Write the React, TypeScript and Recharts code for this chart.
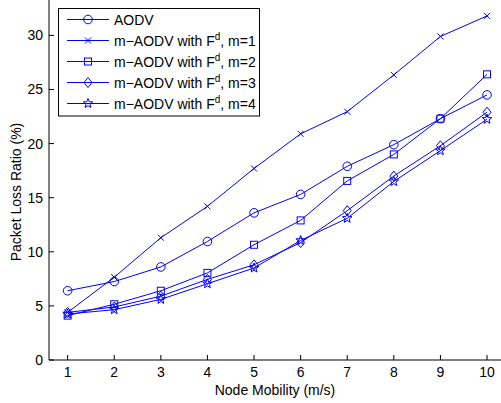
import React from 'react';
import { LineChart, Line, XAxis, YAxis } from 'recharts';

const mobility = [1, 2, 3, 4, 5, 6, 7, 8, 9, 10];
const aodv = [6.4, 7.25, 8.6, 10.95, 13.6, 15.3, 17.9, 19.9, 22.3, 24.5];
const m1 = [4.4, 7.65, 11.3, 14.2, 17.7, 20.9, 22.95, 26.35, 29.9, 31.8];
const m2 = [4.1, 5.15, 6.4, 8.05, 10.65, 12.9, 16.55, 19.0, 22.3, 26.4];
const m3 = [4.4, 4.9, 5.9, 7.45, 8.8, 10.85, 13.8, 17.0, 19.8, 22.9];
const m4 = [4.25, 4.65, 5.6, 7.05, 8.5, 11.05, 13.1, 16.5, 19.35, 22.25];
const xTicks = [1, 2, 3, 4, 5, 6, 7, 8, 9, 10];
const yTicks = [0, 5, 10, 15, 20, 25, 30];
const legendLabels = ['AODV', 'm=1', 'm=2', 'm=3', 'm=4'];

const data = mobility.map((x, i) => ({ x, aodv: aodv[i], m1: m1[i], m2: m2[i], m3: m3[i], m4: m4[i] }));

const BLUE = '#0000ff';
const FONT = '"Liberation Sans", Arial, sans-serif';
const FS = 14;

type Kind = 'circle' | 'x' | 'square' | 'diamond' | 'star';

function starPath(cx: number, cy: number, ro: number, ri: number) {
  let d = '';
  for (let i = 0; i < 10; i++) {
    const r = i % 2 === 0 ? ro : ri;
    const a = -Math.PI / 2 + (i * Math.PI) / 5;
    d += (i === 0 ? 'M' : 'L') + (cx + r * Math.cos(a)).toFixed(2) + ',' + (cy + r * Math.sin(a)).toFixed(2);
  }
  return d + 'Z';
}

function Marker({ kind, cx, cy }: { kind: Kind; cx: number; cy: number }) {
  const p = { fill: 'none', stroke: BLUE, strokeWidth: 1 };
  switch (kind) {
    case 'circle':
      return <circle cx={cx} cy={cy} r={4.3} {...p} />;
    case 'x':
      return <path d={`M${cx - 3},${cy - 3}L${cx + 3},${cy + 3}M${cx - 3},${cy + 3}L${cx + 3},${cy - 3}`} {...p} />;
    case 'square':
      return <rect x={cx - 3.5} y={cy - 3.5} width={7} height={7} {...p} />;
    case 'diamond':
      return <path d={`M${cx},${cy - 5}L${cx + 4},${cy}L${cx},${cy + 5}L${cx - 4},${cy}Z`} {...p} />;
    case 'star':
      return <path d={starPath(cx, cy, 5, 2.1)} {...p} />;
  }
  return null;
}

const dotFor = (kind: Kind) => (props: any) => (
  <Marker key={`${kind}-${props.index}`} kind={kind} cx={props.cx} cy={props.cy} />
);

const XTick = (props: any) => {
  const { x, y, payload } = props;
  return (
    <g>
      <line x1={x} y1={y} x2={x} y2={y - 5} stroke="#000" />
      <text x={x} y={y + 17} textAnchor="middle" fontSize={FS} fontFamily={FONT} fill="#000">
        {payload.value}
      </text>
    </g>
  );
};

const YTick = (props: any) => {
  const { x, y, payload } = props;
  return (
    <g>
      <line x1={x} y1={y} x2={x + 5} y2={y} stroke="#000" />
      <text x={x - 6} y={y + 5} textAnchor="end" fontSize={FS} fontFamily={FONT} fill="#000">
        {payload.value}
      </text>
    </g>
  );
};

const YLabel = () => (
  <text transform="translate(21,192) rotate(-90)" x={0} y={0} textAnchor="middle" fontSize={FS} fontFamily={FONT} fill="#000">
    Packet Loss Ratio (%)
  </text>
);

const kinds: Kind[] = ['circle', 'x', 'square', 'diamond', 'star'];

const LegendBox = () => (
  <svg width={202} height={109} style={{ display: 'block' }}>
    <rect x={0.5} y={0.5} width={201} height={107.5} fill="#fff" stroke="#000" strokeWidth={1} />
    {kinds.map((k, i) => {
      const cy = 11.5 + i * 21;
      return (
        <g key={k}>
          <line x1={9} y1={cy} x2={51} y2={cy} stroke={BLUE} strokeWidth={1} />
          <Marker kind={k} cx={30} cy={cy} />
          {i === 0 ? (
            <text x={56} y={cy + 5} fontSize={FS} fontFamily={FONT} fill="#000">
              {legendLabels[i]}
            </text>
          ) : (
            <text x={56} y={cy + 5} fontSize={FS} fontFamily={FONT} fill="#000">
              m−AODV with F
              <tspan dy={-6} fontSize={10}>d</tspan>
              <tspan dy={6}>, {legendLabels[i]}</tspan>
            </text>
          )}
        </g>
      );
    })}
  </svg>
);

export default function App() {
  return (
    <div style={{ position: 'absolute', left: 0, top: 0, width: 501, height: 403, background: '#fff' }}>
      <LineChart width={501} height={403} data={data} margin={{ top: 0, right: 0, bottom: 0, left: 0 }}>
        <XAxis
          dataKey="x"
          type="number"
          domain={[0.6, 10.3]}
          ticks={xTicks}
          tick={<XTick />}
          tickSize={0}
          tickMargin={0}
          tickLine={false}
          height={43}
          axisLine={{ stroke: '#000', strokeWidth: 1 }}
          allowDataOverflow
          label={{ value: 'Node Mobility (m/s)', position: 'insideBottom', offset: 8, fontSize: FS, fontFamily: FONT, fill: '#000' }}
        />
        <YAxis
          type="number"
          domain={[0, 33.27]}
          ticks={yTicks}
          tick={<YTick />}
          tickSize={0}
          tickMargin={0}
          tickLine={false}
          width={49}
          axisLine={{ stroke: '#000', strokeWidth: 1 }}
          allowDataOverflow
          label={{ content: () => <YLabel /> }}
        />
        <Line dataKey="aodv" stroke={BLUE} strokeWidth={1} isAnimationActive={false} dot={dotFor('circle')} />
        <Line dataKey="m1" stroke={BLUE} strokeWidth={1} isAnimationActive={false} dot={dotFor('x')} />
        <Line dataKey="m2" stroke={BLUE} strokeWidth={1} isAnimationActive={false} dot={dotFor('square')} />
        <Line dataKey="m3" stroke={BLUE} strokeWidth={1} isAnimationActive={false} dot={dotFor('diamond')} />
        <Line dataKey="m4" stroke={BLUE} strokeWidth={1} isAnimationActive={false} dot={dotFor('star')} />
      </LineChart>
      <div style={{ position: 'absolute', left: 58, top: 8 }}>
        <LegendBox />
      </div>
    </div>
  );
}
